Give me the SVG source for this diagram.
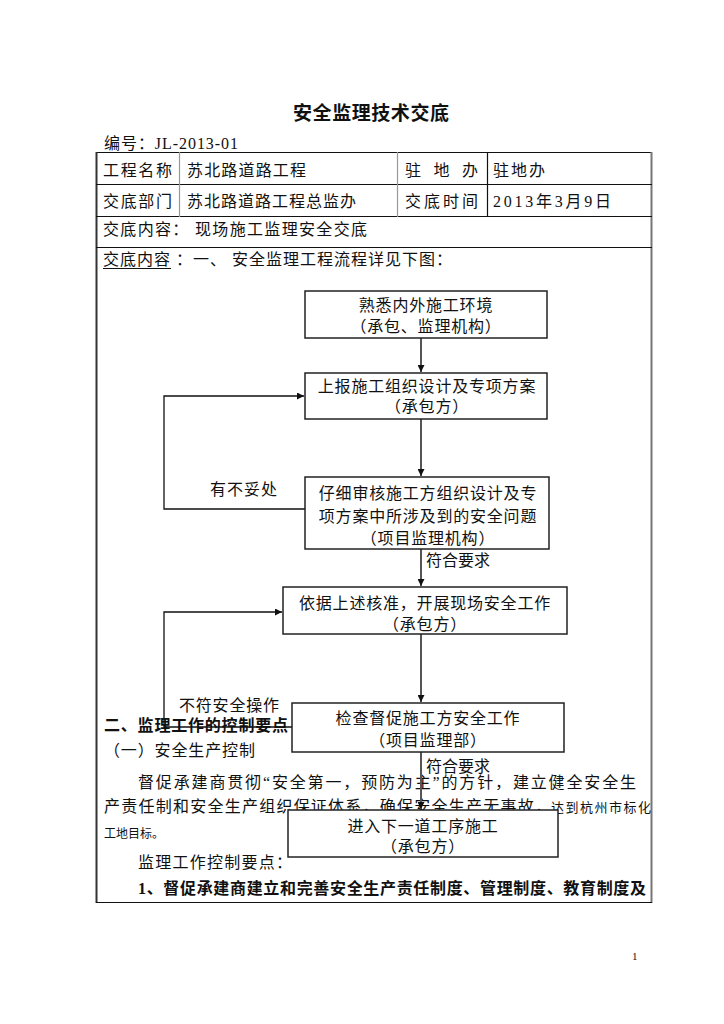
<svg xmlns="http://www.w3.org/2000/svg" width="724" height="1024" viewBox="0 0 724 1024">
<defs>
<style>
.t{font-family:"Liberation Serif","Noto Sans CJK SC",serif;font-size:16px;fill:#111}
.b{font-weight:bold}
.s{font-size:13px}
.nt{letter-spacing:0.8px}
.box{fill:#fff;stroke:#222;stroke-width:1.5}
.ln{fill:none;stroke:#111;stroke-width:1.3}
.vl{fill:none;stroke:#555;stroke-width:2}
.tl{stroke:#111;stroke-width:1.2}
.tg{stroke:#999;stroke-width:1.2}
</style>
<marker id="ah" viewBox="0 0 10 10" refX="10" refY="5" markerWidth="7" markerHeight="7" markerUnits="userSpaceOnUse" orient="auto">
<path d="M0,0 L10,5 L0,10 z" fill="#111"/>
</marker>
</defs>
<rect width="724" height="1024" fill="#fff"/>
<g id="page">
<text class="t b" x="293" y="120" style="font-size:19px" textLength="156" lengthAdjust="spacing">安全监理技术交底</text>
<text class="t" x="104" y="149" textLength="134" lengthAdjust="spacing">编号：JL-2013-01</text>
<line class="tl" x1="96" y1="152.5" x2="652" y2="152.5"/>
<line x1="96.5" y1="152" x2="96.5" y2="903" stroke="#333" stroke-width="2"/>
<line x1="651.5" y1="152" x2="651.5" y2="903" stroke="#777" stroke-width="2"/>
<line class="tl" x1="96" y1="902.5" x2="652" y2="902.5"/>
<line class="tl" x1="96" y1="184.5" x2="652" y2="184.5"/>
<line class="tl" x1="96" y1="216.5" x2="652" y2="216.5"/>
<line class="tl" x1="96" y1="247.5" x2="652" y2="247.5"/>
<line class="tg" x1="179.5" y1="152" x2="179.5" y2="217"/>
<line class="tg" x1="397.5" y1="152" x2="397.5" y2="217"/>
<line class="tl" x1="487.5" y1="152" x2="487.5" y2="217"/>
<text class="t" x="103" y="176" textLength="69" lengthAdjust="spacing">工程名称</text>
<text class="t" x="187" y="176" textLength="119" lengthAdjust="spacing">苏北路道路工程</text>
<text class="t" x="405" y="176" textLength="73" lengthAdjust="spacing">驻 地 办</text>
<text class="t" x="493" y="176" textLength="52" lengthAdjust="spacing">驻地办</text>
<text class="t" x="103" y="207" textLength="69" lengthAdjust="spacing">交底部门</text>
<text class="t" x="187" y="207" textLength="169" lengthAdjust="spacing">苏北路道路工程总监办</text>
<text class="t" x="405" y="207" textLength="73" lengthAdjust="spacing">交底时间</text>
<text class="t" x="493" y="207" textLength="118" lengthAdjust="spacing">2013年3月9日</text>
<text class="t" x="103" y="235" textLength="264" lengthAdjust="spacing">交底内容：  现场施工监理安全交底</text>
<text class="t" x="103" y="265" textLength="349" lengthAdjust="spacing">交底内容 ：一、  安全监理工程流程详见下图：</text>
<line x1="103" y1="268.5" x2="171" y2="268.5" stroke="#111" stroke-width="1"/>
<text class="t b" x="104" y="731" textLength="184" lengthAdjust="spacing">二、监理工作的控制要点</text>
<text class="t" x="104" y="756" textLength="151" lengthAdjust="spacing">（一）安全生产控制</text>
<text class="t" x="138" y="788" textLength="498" lengthAdjust="spacing">督促承建商贯彻“安全第一，预防为主”的方针，建立健全安全生</text>
<text class="t" x="104" y="812" textLength="447" lengthAdjust="spacing">产责任制和安全生产组织保证体系，确保安全生产无事故，</text>
<text class="t s" x="551" y="812" textLength="100" lengthAdjust="spacing">达到杭州市标化</text>
<text class="t" x="104" y="838" style="font-size:12px">工地目标。</text>
<text class="t" x="138" y="868" textLength="154" lengthAdjust="spacing">监理工作控制要点：</text>
<text class="t b" x="138" y="894" textLength="508" lengthAdjust="spacing">1、督促承建商建立和完善安全生产责任制度、管理制度、教育制度及</text>
<text class="t" x="632" y="960" style="font-size:11px">1</text>
</g>
<g id="connectors">
<line class="vl" x1="421" y1="338" x2="421" y2="372" marker-end="url(#ah)"/>
<line class="vl" x1="421" y1="419" x2="421" y2="476" marker-end="url(#ah)"/>
<line class="vl" x1="421" y1="549" x2="421" y2="586" marker-end="url(#ah)"/>
<line class="vl" x1="421" y1="634" x2="421" y2="702" marker-end="url(#ah)"/>
<line class="vl" x1="421" y1="752" x2="421" y2="809" marker-end="url(#ah)"/>
<polyline class="ln" points="305,509 164,509 164,396 304,396" marker-end="url(#ah)"/>
<polyline class="ln" points="292,727 164,727 164,612 282,612" marker-end="url(#ah)"/>
<text class="t" x="210" y="495" textLength="67" lengthAdjust="spacing">有不妥处</text>
<text class="t" x="426" y="566">符合要求</text>
<text class="t" x="179" y="711" textLength="100" lengthAdjust="spacing">不符安全操作</text>
<text class="t" x="426" y="772">符合要求</text>
</g>
<g id="n1">
<rect class="box" x="305" y="291" width="242" height="47"/>
<text class="t nt" x="426" y="311" text-anchor="middle">熟悉内外施工环境</text>
<text class="t nt" x="426" y="332" text-anchor="middle">（承包、监理机构）</text>
</g>
<g id="n2">
<rect class="box" x="305" y="373" width="242" height="46"/>
<text class="t nt" x="427" y="392" text-anchor="middle">上报施工组织设计及专项方案</text>
<text class="t nt" x="427" y="412" text-anchor="middle">（承包方）</text>
</g>
<g id="n3">
<rect class="box" x="305" y="477" width="244" height="72"/>
<text class="t nt" x="428" y="499" text-anchor="middle">仔细审核施工方组织设计及专</text>
<text class="t nt" x="428" y="522" text-anchor="middle">项方案中所涉及到的安全问题</text>
<text class="t nt" x="428" y="544" text-anchor="middle">（项目监理机构）</text>
</g>
<g id="n4">
<rect class="box" x="283" y="587" width="284" height="47"/>
<text class="t nt" x="425" y="609" text-anchor="middle">依据上述核准，开展现场安全工作</text>
<text class="t nt" x="425" y="630" text-anchor="middle">（承包方）</text>
</g>
<g id="n5">
<rect class="box" x="292" y="703" width="272" height="49"/>
<text class="t nt" x="428" y="724" text-anchor="middle">检查督促施工方安全工作</text>
<text class="t nt" x="428" y="746" text-anchor="middle">（项目监理部）</text>
</g>
<g id="n6">
<rect class="box" x="288" y="810" width="270" height="47"/>
<text class="t nt" x="423" y="832" text-anchor="middle">进入下一道工序施工</text>
<text class="t nt" x="423" y="852" text-anchor="middle">（承包方）</text>
</g>
</svg>
